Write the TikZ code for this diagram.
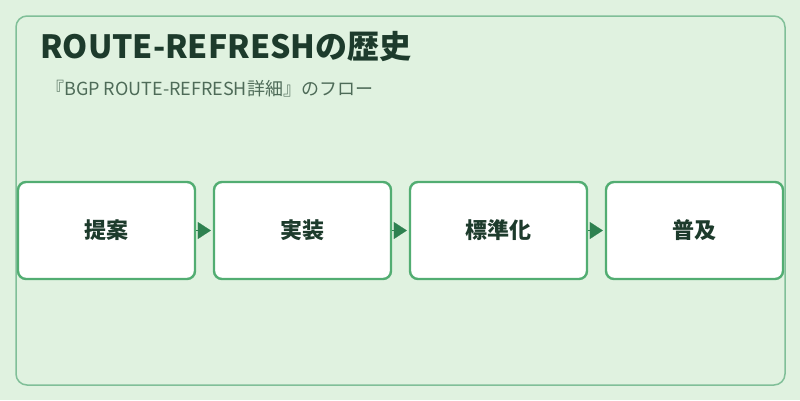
\documentclass[tikz,border=0pt]{standalone}
\usepackage{fontspec}
\setmainfont{Noto Sans CJK JP}
\newfontfamily\jpfont{Noto Sans CJK JP}
\usetikzlibrary{arrows.meta}
\definecolor{bgc}{HTML}{E0F2E0}
\definecolor{framec}{HTML}{80BF98}
\definecolor{boxc}{HTML}{52AD72}
\definecolor{arrc}{HTML}{2E8150}
\definecolor{titlec}{HTML}{1D3B2C}
\definecolor{subc}{HTML}{4E6B58}
\begin{document}
\begin{tikzpicture}[x=1pt,y=-1pt,
  stepbox/.style={draw=boxc,line width=2.4pt,fill=white,rounded corners=8pt,
    minimum width=177pt,minimum height=97pt,inner sep=0pt,
    font=\jpfont\bfseries\fontsize{22}{26}\selectfont,text=titlec},
  flow/.style={draw=arrc,fill=arrc,line width=0.1pt,-{Triangle[length=13pt,width=17pt]},shorten >=2pt}]
\fill[bgc] (0,0) rectangle (800,400);
\useasboundingbox (0,0) rectangle (800,400);
\draw[framec,line width=1.5pt,rounded corners=11pt] (16,16) rectangle (785,385);
\node[anchor=base west,inner sep=0pt,text=titlec,font=\jpfont\bfseries\fontsize{32}{36}\selectfont] (title) at (40,58) {ROUTE-REFRESHの歴史};
\node[anchor=base west,inner sep=0pt,text=subc,font=\jpfont\fontsize{18}{21}\selectfont] (sub) at (46,95) {『BGP ROUTE-REFRESH詳細』のフロー};
\node[stepbox] (b1) at (106.5,230.5) {提案};
\node[stepbox] (b2) at (302.5,230.5) {実装};
\node[stepbox] (b3) at (498.5,230.5) {標準化};
\node[stepbox] (b4) at (694.5,230.5) {普及};
\draw[flow] (b1.east) -- (b2.west);
\draw[flow] (b2.east) -- (b3.west);
\draw[flow] (b3.east) -- (b4.west);
\end{tikzpicture}
\end{document}
